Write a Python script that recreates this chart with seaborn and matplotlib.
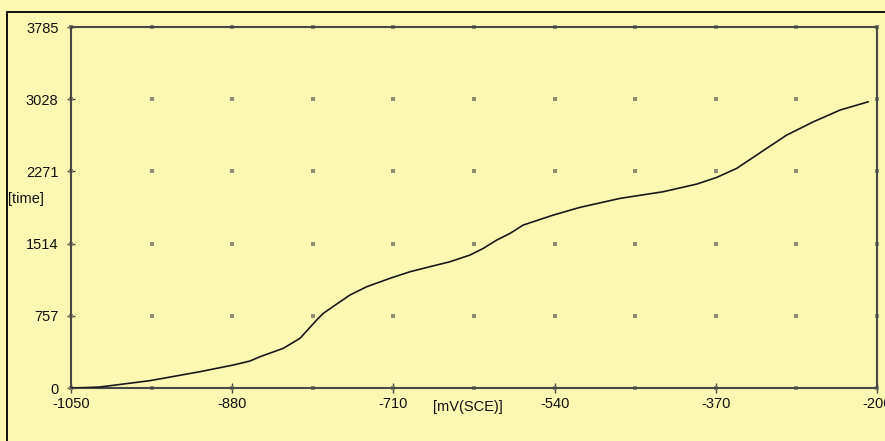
import numpy as np
import pandas as pd
import matplotlib
matplotlib.use("Agg")
import matplotlib.pyplot as plt
from matplotlib.lines import Line2D
import seaborn as sns

# ---- data ----
potential = [-1050, -1035, -1020, -1000, -966.7, -914, -878.8, -861.2, -850.7, -826.1,
             -808.5, -790.9, -783.9, -769.8, -755.8, -738.1, -713.6, -692.5, -671.4,
             -650.3, -629.2, -615.2, -601.0, -587.0, -573.0, -541.4, -513.2, -471.0,
             -425.4, -390.1, -369.0, -347.9, -316.3, -295.2, -267.1, -239.0, -209.2]
time_vals = [0, 4, 10, 35, 77, 171, 241, 283, 328, 416,
             521, 713, 783, 880, 975, 1062, 1150, 1219, 1272,
             1324, 1394, 1464, 1551, 1621, 1709, 1813, 1894, 1988,
             2058, 2138, 2208, 2303, 2513, 2652, 2791, 2914, 3001]
x_ticks = [-1050, -880, -710, -540, -370, -200]
y_ticks = [0, 757, 1514, 2271, 3028, 3785]
x_label = "[mV(SCE)]"
y_label = "[time]"

df = pd.DataFrame({"potential": potential, "time": time_vals})

bg = "#FBF8B4"
axis_col = "#4a4a44"
sns.set_theme(style="white")
plt.rcParams["font.family"] = ["Liberation Sans", "DejaVu Sans"]

fig = plt.figure(figsize=(8.85, 4.41), dpi=100, facecolor=bg)
ax = fig.add_axes([71 / 885, 1 - 388 / 441, (877 - 71) / 885, (388 - 27) / 441])
ax.set_facecolor(bg)

# grid dots
gx = np.arange(x_ticks[0], x_ticks[-1] + 1, 85)
gy = np.array(y_ticks)
GX, GY = np.meshgrid(gx, gy)
ax.scatter(GX.ravel(), GY.ravel(), s=5.5, color="#8e8e74", marker="s", linewidths=0, zorder=1, clip_on=False)

sns.lineplot(data=df, x="potential", y="time", ax=ax, color="#1a1a1a", linewidth=1.2, zorder=3)

ax.set_xlim(x_ticks[0], x_ticks[-1])
ax.set_ylim(y_ticks[0], y_ticks[-1])
ax.set_xticks(x_ticks)
ax.set_yticks(y_ticks)
ax.set_xticklabels([str(v) for v in x_ticks])
ax.set_yticklabels([str(v) for v in y_ticks])
ax.tick_params(axis="y", direction="inout", length=6, width=1, color=axis_col, pad=6,
               labelsize=10.5, labelcolor="#111111", left=True)
ax.tick_params(axis="x", direction="inout", length=7, width=1, color=axis_col, pad=3,
               labelsize=10.5, labelcolor="#111111", bottom=True)
for s in ax.spines.values():
    s.set_visible(True)
    s.set_color(axis_col)
    s.set_linewidth(1.5)
ax.set_xlabel("")
ax.set_ylabel("")

fig.text(8 / 885, 1 - 199 / 441, y_label, fontsize=10.5, color="#111111", ha="left", va="center")
fig.text(433 / 885, 1 - 407 / 441, x_label, fontsize=10.5, color="#111111", ha="left", va="center")

# outer frame lines
fig.add_artist(Line2D([7 / 885, 1.0], [1 - 12 / 441, 1 - 12 / 441], color="black", linewidth=1.3, transform=fig.transFigure))
fig.add_artist(Line2D([7 / 885, 7 / 885], [1 - 12 / 441, 0.0], color="black", linewidth=1.3, transform=fig.transFigure))

fig.savefig("out.png", dpi=100, facecolor=bg)
